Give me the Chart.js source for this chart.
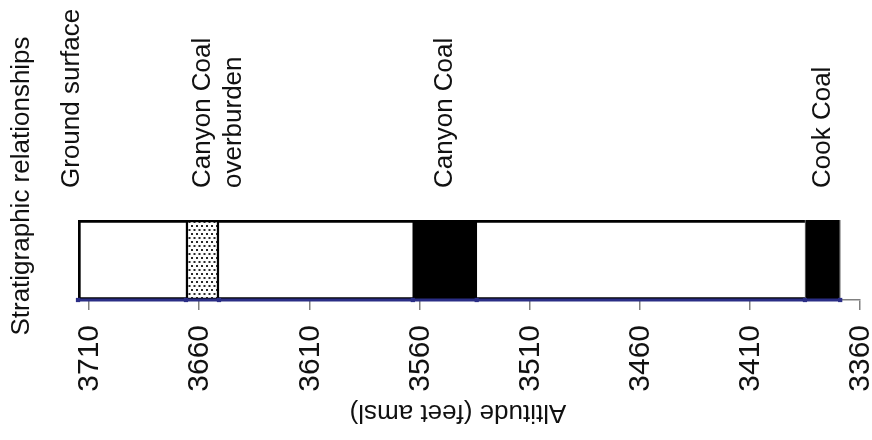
<!DOCTYPE html>
<html>
<head>
<meta charset="utf-8">
<script src="https://cdn.jsdelivr.net/npm/chart.js@4.4.1/dist/chart.umd.min.js"></script>
<style>
  html, body { margin: 0; padding: 0; background: #ffffff; }
  #wrap { width: 872px; height: 440px; }
</style>
</head>
<body>
<div id="wrap"><canvas id="c" width="872" height="440"></canvas></div>
<script>
// Altitudes in feet above mean sea level
const groundSurface = 3715;
const sectionBase = 3369;
const layerNames = ['Canyon Coal\noverburden', 'Canyon Coal', 'Cook Coal'];
const layerTops = [3666, 3563, 3385];
const layerBases = [3651, 3534, 3369];
const altitudeTicks = [3710, 3660, 3610, 3560, 3510, 3460, 3410, 3360];
const axisMin = 3360;
const axisMax = 3715;

const FONT = '"Liberation Sans", Arial, Helvetica, sans-serif';
const INK = '#111111';
const CONTACT_BLUE = '#2b2e86';

// stippled fill used for the overburden interval
function stipple(ctx) {
  const t = document.createElement('canvas');
  t.width = 5; t.height = 8;
  const g = t.getContext('2d');
  g.fillStyle = '#ffffff';
  g.fillRect(0, 0, 5, 8);
  g.fillStyle = '#2a2a2a';
  g.fillRect(1, 1, 2, 2);
  g.fillRect(3.5, 5, 2, 2);
  g.fillRect(-1.5, 5, 2, 2);
  return ctx.createPattern(t, 'repeat');
}

const canvas = document.getElementById('c');
const ctx = canvas.getContext('2d');

// all layer contacts, ground surface down to the base of the section
const contacts = [groundSurface];
layerTops.forEach((t, i) => { contacts.push(t, layerBases[i]); });

const layerFills = [stipple(ctx), '#000000', '#000000'];
const layerBorders = ['#000000', '#000000', '#8a8a8a'];
const layerBorderWidths = [2.5, 0, 1];

const barDatasets = [{
  type: 'bar',
  label: 'Section',
  data: [[groundSurface, sectionBase]],
  backgroundColor: '#ffffff',
  borderColor: '#000000',
  borderWidth: 3,
  borderSkipped: false,
  grouped: false,
  barPercentage: 1,
  categoryPercentage: 1,
  order: 5
}].concat(layerNames.map((name, i) => {
  const ds = {
    type: 'bar',
    label: name.replace('\n', ' '),
    data: [[layerTops[i], layerBases[i]]],
    backgroundColor: layerFills[i],
    borderColor: layerBorders[i],
    borderWidth: layerBorderWidths[i],
    borderSkipped: false,
    grouped: false,
    barPercentage: 1,
    categoryPercentage: 1,
    order: 4 - i
  };
  if (i === layerNames.length - 1) ds.barThickness = 84;
  return ds;
}));

const contactLine = {
  type: 'line',
  label: 'Contacts',
  indexAxis: 'x',
  xAxisID: 'x',
  yAxisID: 'yb',
  data: contacts.map(v => ({ x: v, y: 0 })),
  borderColor: CONTACT_BLUE,
  borderWidth: 3,
  pointStyle: 'rect',
  pointRadius: 3,
  pointBackgroundColor: CONTACT_BLUE,
  pointBorderWidth: 0,
  tension: 0,
  clip: false,
  order: 0
};

// tick labels, labels above the column, the y-axis caption and the inverted x-axis caption
const annotations = {
  id: 'annotations',
  afterDraw(chart) {
    const c = chart.ctx;
    const x = chart.scales.x;
    c.save();
    c.fillStyle = INK;

    const upright = (lines, px, py, align, gap) => {
      c.save();
      c.translate(px, py);
      c.rotate(-Math.PI / 2);
      c.textAlign = align;
      c.textBaseline = 'middle';
      lines.forEach((ln, k) => c.fillText(ln, 0, k * gap));
      c.restore();
    };

    // altitude tick labels, reading upward and ending just below the tick marks
    c.font = '30px ' + FONT;
    x.ticks.forEach(t => {
      upright([String(t.value)], x.getPixelForValue(t.value) + 1, x.top + 25, 'right', 0);
    });

    c.font = '26px ' + FONT;
    upright(['Ground surface'], x.getPixelForValue(groundSurface) - 6, 188, 'left', 31);
    layerNames.forEach((name, i) => {
      const mid = x.getPixelForValue((layerTops[i] + layerBases[i]) / 2);
      upright(name.split('\n'), mid, 188, 'left', 31);
    });

    upright(['Stratigraphic relationships'], 22, 186, 'center', 0);

    c.save();
    c.translate(458, 412);
    c.rotate(Math.PI);
    c.textAlign = 'center';
    c.textBaseline = 'middle';
    c.fillText('Altitude (feet amsl)', 0, 0);
    c.restore();
    c.restore();
  }
};

new Chart(ctx, {
  type: 'bar',
  data: {
    labels: [''],
    datasets: barDatasets.concat([contactLine])
  },
  options: {
    indexAxis: 'y',
    responsive: false,
    animation: false,
    devicePixelRatio: 1,
    layout: { padding: { left: 78, right: 12, top: 220, bottom: 0 } },
    plugins: {
      legend: { display: false },
      tooltip: { enabled: false }
    },
    scales: {
      x: {
        type: 'linear',
        reverse: true,
        min: axisMin,
        max: axisMax,
        afterBuildTicks(scale) {
          scale.ticks = altitudeTicks.map(v => ({ value: v }));
        },
        afterFit(scale) {
          scale.height = 140;
          scale.paddingLeft = 0;
          scale.paddingRight = 0;
        },
        grid: {
          drawOnChartArea: false,
          drawTicks: true,
          tickLength: 10,
          color: '#808080',
          lineWidth: 1.5
        },
        border: { display: true, color: '#808080', width: 1.5 },
        ticks: { display: false }
      },
      y: {
        type: 'category',
        display: false
      },
      yb: {
        type: 'linear',
        display: false,
        offset: false,
        min: 0,
        max: 1
      }
    }
  },
  plugins: [annotations]
});
</script>
</body>
</html>
